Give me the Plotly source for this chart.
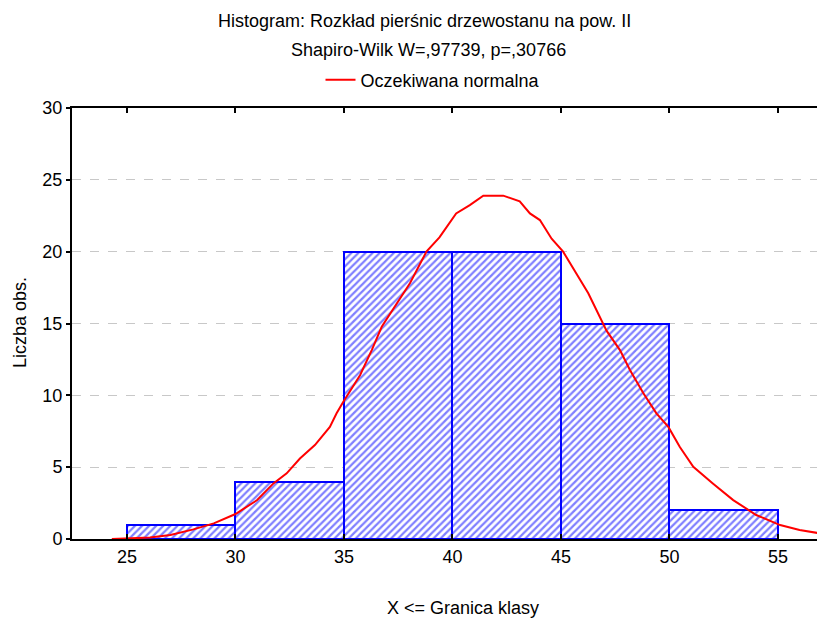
import plotly.graph_objects as go

# Histogram data
bin_centers = [27.5, 32.5, 37.5, 42.5, 47.5, 52.5]
bin_counts = [1, 4, 20, 20, 15, 2]
bin_width = 5

# Expected normal curve
curve_x = [24.3, 25.0, 26.06, 27.0, 28.06, 29.0, 30.0, 31.0, 31.75, 32.36, 32.97,
           33.66, 34.35, 34.66, 34.97, 35.74, 36.28, 36.74, 37.43, 38.04, 38.8,
           39.4, 40.17, 40.8, 41.42, 42.34, 43.1, 43.57, 44.03, 44.57, 45.1,
           45.7, 46.26, 47.1, 47.72, 48.18, 48.8, 49.4, 49.95, 50.48, 51.1,
           52.0, 52.94, 54.0, 55.1, 56.0, 57.07, 57.3]
curve_y = [0.0, 0.03, 0.1, 0.28, 0.67, 1.09, 1.74, 2.71, 3.87, 4.57, 5.6,
           6.54, 7.8, 8.75, 9.55, 11.4, 13.15, 14.77, 16.4, 17.8, 20.0,
           21.0, 22.66, 23.24, 23.9, 23.9, 23.5, 22.66, 22.2, 20.9, 20.0,
           18.5, 17.1, 14.5, 13.15, 11.76, 10.14, 8.75, 7.8, 6.4, 5.03,
           3.87, 2.71, 1.67, 0.97, 0.63, 0.33, 0.3]

x_ticks = [25, 30, 35, 40, 45, 50, 55]
y_ticks = [0, 5, 10, 15, 20, 25, 30]

title_1 = "Histogram: Rozkład pierśnic drzewostanu na pow. II"
title_2 = "Shapiro-Wilk W=,97739, p=,30766"
x_title = "X <= Granica klasy"
y_title = "Liczba obs."
curve_name = "Oczekiwana normalna"

FONT = "Liberation Sans, Arial, sans-serif"
FS = 18

# page has an 8px body margin, so the figure is 8px smaller
W, H = 817, 616
L, R, T, B = 64, 0, 100, 85
PW, PH = W - L - R, H - T - B


def px(x, y):
    return (x - L) / PW, (H - B - y) / PH


fig = go.Figure()
fig.add_trace(go.Bar(
    x=bin_centers, y=bin_counts, width=[bin_width] * len(bin_centers),
    marker=dict(color="white", line=dict(color="#0000FF", width=2),
                pattern=dict(shape="/", fgcolor="#0000FF", bgcolor="white",
                             size=5, solidity=0.45)),
    showlegend=False, hoverinfo="skip",
))
fig.add_trace(go.Scatter(
    x=curve_x, y=curve_y, mode="lines", name=curve_name,
    line=dict(color="#FF0000", width=2),
))

annots = []
for text, x, y, ang in [(title_1, 416, 12.5, 0), (title_2, 420, 42, 0),
                        (x_title, 455, 600, 0), (y_title, 12, 315, -90)]:
    ax, ay = px(x, y)
    annots.append(dict(text=text, x=ax, y=ay, xref="paper", yref="paper",
                       xanchor="center", yanchor="middle", showarrow=False,
                       textangle=ang, font=dict(size=FS, family=FONT)))

lx, ly = px(425, 72)

fig.update_layout(
    width=W, height=H,
    margin=dict(l=L, r=R, t=T, b=B, pad=0),
    paper_bgcolor="white", plot_bgcolor="white",
    font=dict(family=FONT, size=FS, color="black"),
    bargap=0,
    showlegend=True,
    legend=dict(orientation="h", x=lx, xanchor="center", y=ly, yanchor="middle",
                font=dict(size=FS), bgcolor="rgba(0,0,0,0)"),
    xaxis=dict(range=[22.465, 57.17], tickvals=x_ticks, ticks="inside", ticklen=5,
               tickwidth=2, tickcolor="black", showline=True, linecolor="black",
               linewidth=2, mirror="ticks", showgrid=False, zeroline=False,
               tickfont=dict(size=FS)),
    yaxis=dict(range=[0, 30], tickvals=y_ticks, ticks="outside", ticklen=4,
               tickwidth=2, tickcolor="black", showline=True, linecolor="black",
               linewidth=2, mirror=False, showgrid=True, gridcolor="#C8C8C8",
               griddash="dash", gridwidth=1, zeroline=False,
               tickfont=dict(size=FS)),
    annotations=annots,
)

fig.write_html("out.html")
